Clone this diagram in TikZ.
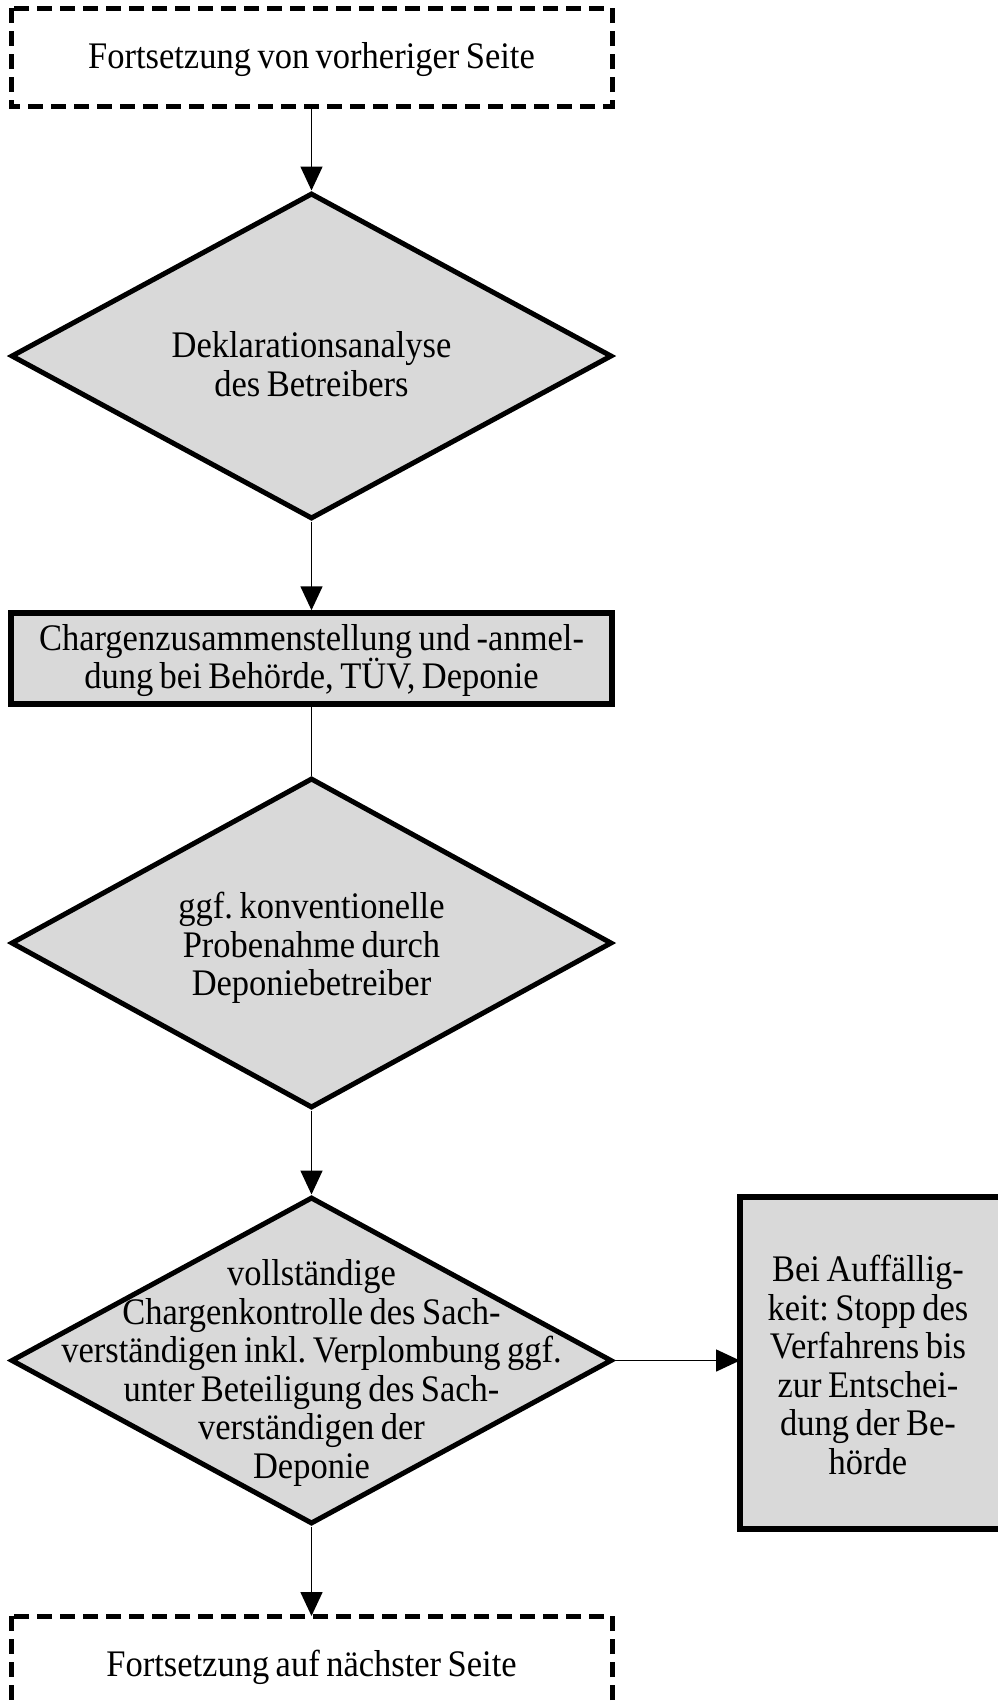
\documentclass[tikz,border=0pt]{standalone}
\usepackage{fontspec}
\setmainfont[FakeStretch=0.92,WordSpace=0.75]{Liberation Serif}
\usetikzlibrary{shapes.geometric,arrows.meta}
\definecolor{boxgray}{HTML}{D9D9D9}
\tikzset{
  txt/.style={align=center,font=\fontsize{37.5}{38.5}\selectfont\frenchspacing,inner sep=0pt},
  dashbox/.style={draw,line width=5pt,dash pattern=on 15pt off 8pt,fill=white},
  solidbox/.style={draw,line width=5.5pt,fill=boxgray},
  decision/.style={diamond,draw,line width=5pt,fill=boxgray,inner sep=0pt,minimum width=601pt,minimum height=#1},
  conn/.style={line width=1.6pt},
  arr/.style={conn,-{Triangle[width=22pt,length=24pt]}}
}
\begin{document}
\begin{tikzpicture}[x=1pt,y=-1pt]
\useasboundingbox (0,0) rectangle (998,1706);
\clip (0,0) rectangle (998,1706);
% top continuation box
\draw[dashbox] (11,8) rectangle (612,106);
\coordinate (topS) at (311.5,106);
\node[txt] (toptext) at (311.5,60) {Fortsetzung von vorheriger Seite};
% diamond 1
\node[decision=326pt] (d1) at (311.5,356) {};
\node[txt] (d1t) at (311.5,364) {Deklarationsanalyse\\des Betreibers};
% box 2
\node[solidbox,minimum width=601pt,minimum height=91pt,inner sep=0pt] (b2) at (311.5,658.5) {};
\node[txt] (b2t) at (311.5,660.5) {Chargenzusammenstellung und -anmel-\\dung bei Behörde, TÜV, Deponie};
% diamond 2
\node[decision=330pt] (d2) at (311.5,943) {};
\node[txt] (d2t) at (311.5,948) {ggf. konventionelle\\Probenahme durch\\Deponiebetreiber};
% diamond 3
\node[decision=327pt] (d3) at (311.5,1360.5) {};
\node[txt] (d3t) at (311.5,1373) {vollständige\\Chargenkontrolle des Sach-\\verständigen inkl. Verplombung ggf.\\unter Beteiligung des Sach-\\verständigen der\\Deponie};
% right box
\draw[solidbox] (740,1197) rectangle (1004,1529);
\coordinate (rbW) at (740,1360.5);
\node[txt] (rbt) at (868,1365) {Bei Auffällig-\\keit: Stopp des\\Verfahrens bis\\zur Entschei-\\dung der Be-\\hörde};
% bottom continuation box
\draw[dashbox] (11,1616) rectangle (612,1760);
\coordinate (botN) at (311.5,1616);
\node[txt] (bottext) at (311.5,1667) {Fortsetzung auf nächster Seite};
% connectors
\draw[arr] (topS) -- (d1.north);
\draw[arr] (d1.south) -- (b2.north);
\draw[conn] (b2.south) -- (d2.north);
\draw[arr] (d2.south) -- (d3.north);
\draw[arr] (d3.east) -- (rbW);
\draw[arr] (d3.south) -- (botN);
\end{tikzpicture}
\end{document}
